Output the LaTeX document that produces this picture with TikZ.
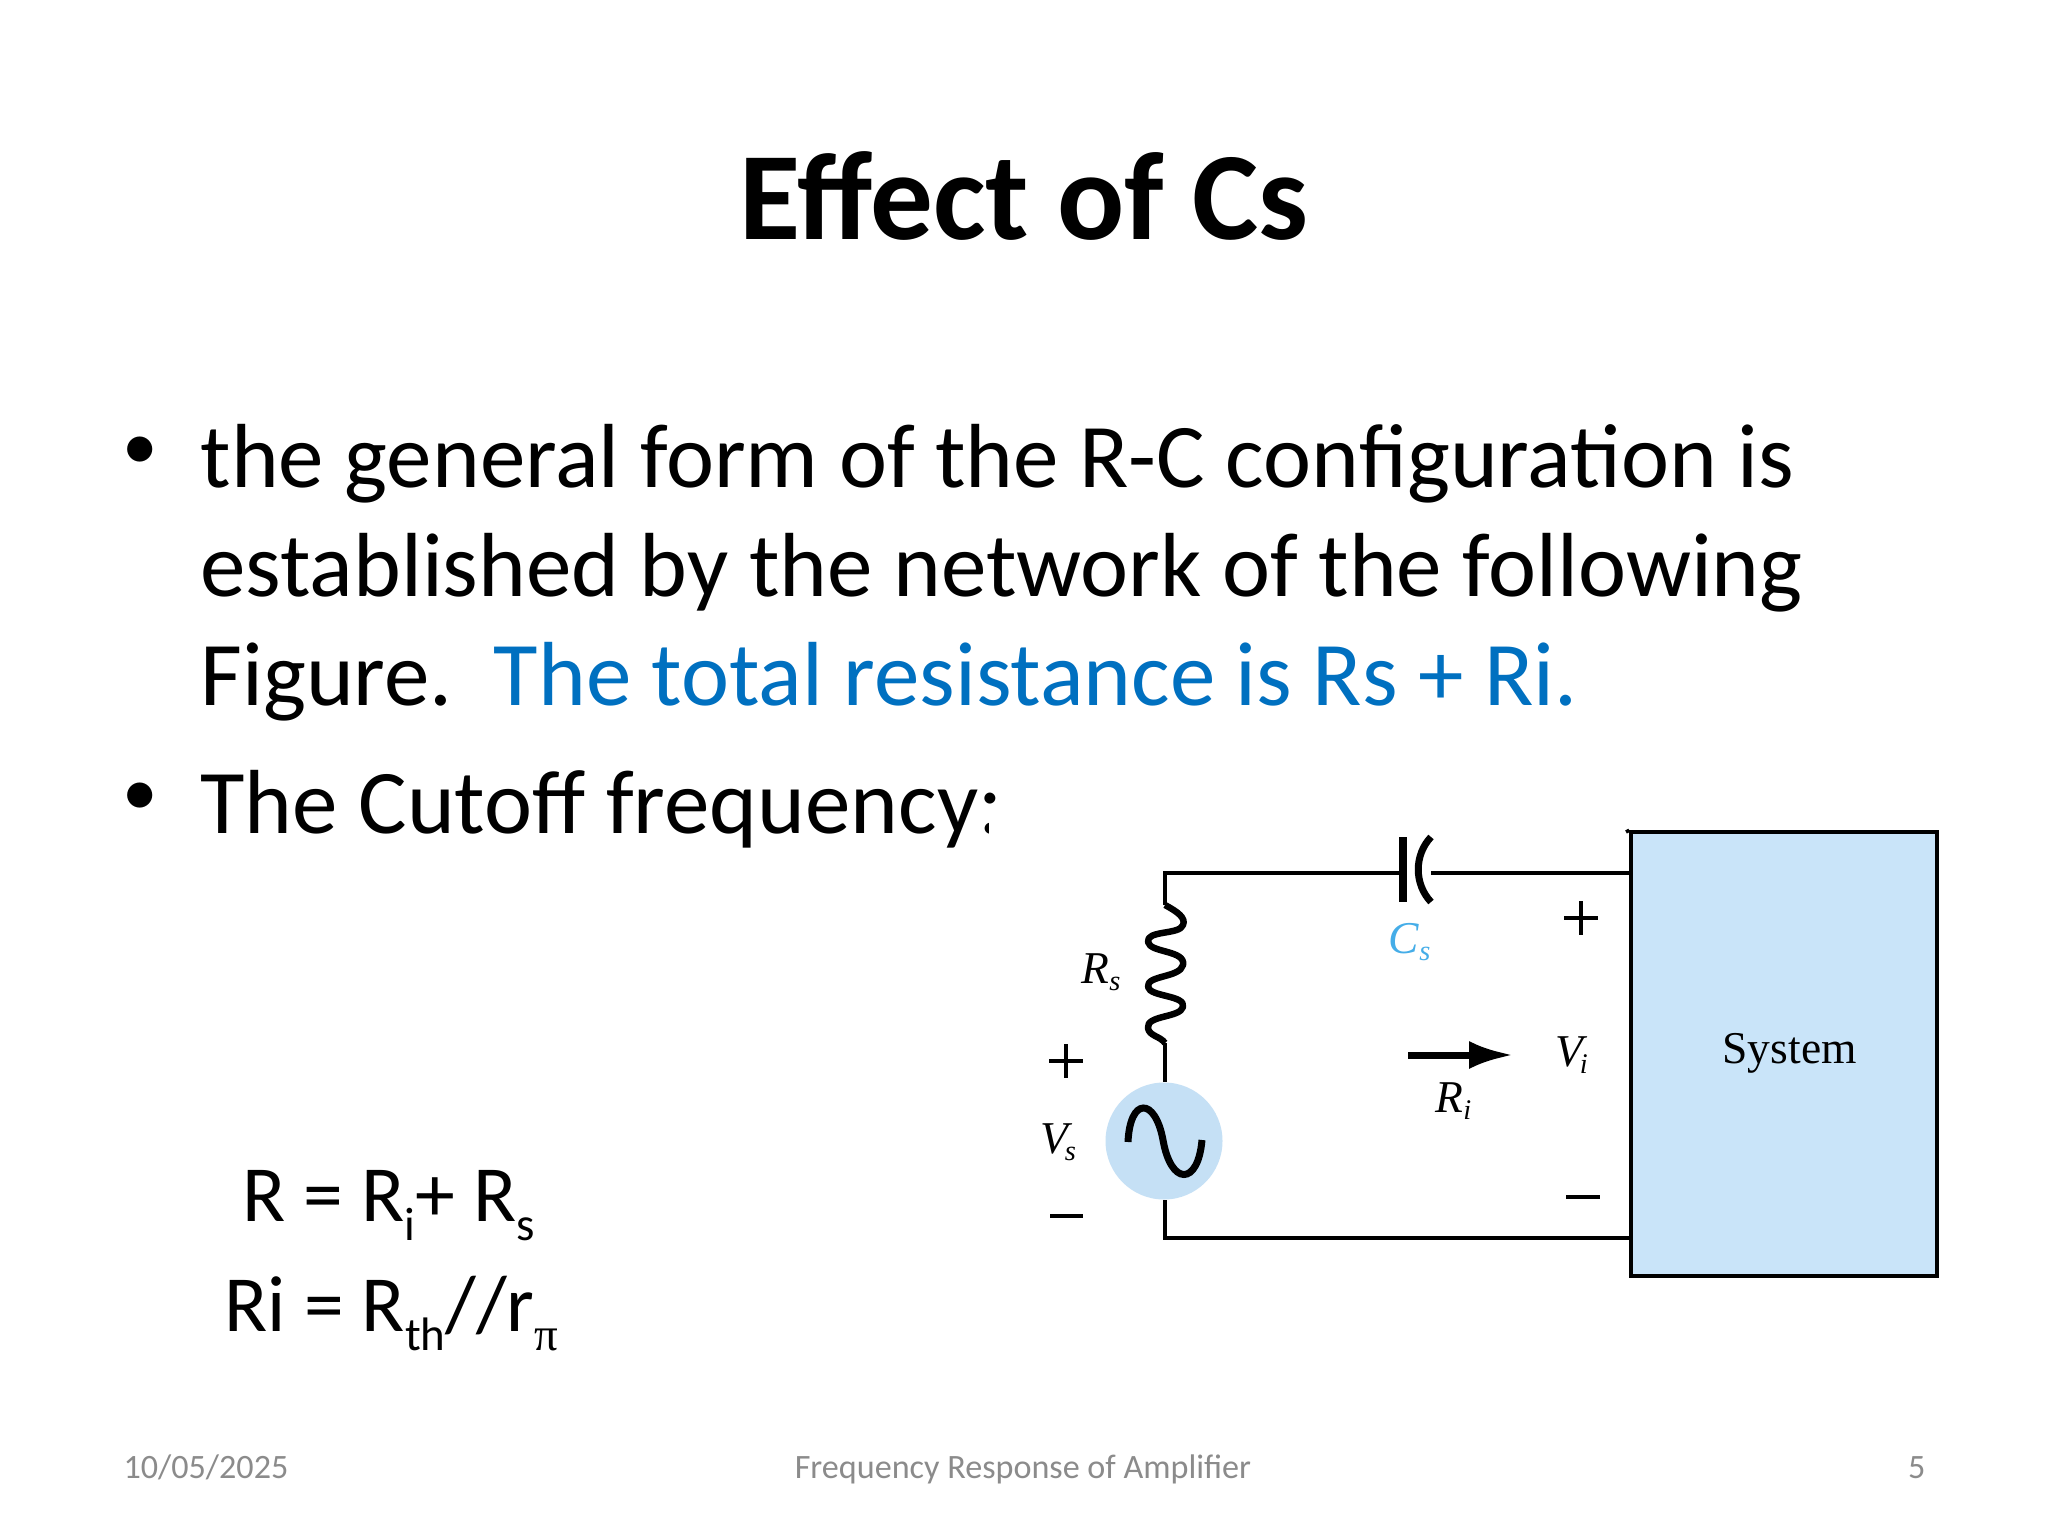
\documentclass[tikz,border=0pt]{standalone}
\usepackage{fontspec}
\setmainfont{Carlito}
\newfontfamily\figfont{Liberation Serif}
\usetikzlibrary{arrows.meta}

\definecolor{sysblue}{HTML}{C9E4F9}
\definecolor{srcblue}{HTML}{C5E0F5}
\definecolor{capblue}{HTML}{45ADE8}
\definecolor{slideblue}{HTML}{0070C0}
\definecolor{footgray}{HTML}{8B8B8B}

\def\px{0.3515625pt}
\newcommand{\lowsub}[1]{\raisebox{-7pt}{\fontsize{16.5}{16.5}\selectfont #1}}
\newcommand{\cirlabel}[2]{\textit{#1}\raisebox{-2.5pt}{\fontsize{10}{10}\selectfont\textit{#2}}}

\tikzset{
  bodytext/.style={anchor=base west,inner sep=0pt,font=\fontsize{32}{32}\selectfont},
  bullettext/.style={anchor=base west,inner sep=0pt,font=\fontsize{25}{25}\selectfont},
  eqtext/.style={anchor=base west,inner sep=0pt,font=\fontsize{28}{28}\selectfont},
  foottext/.style={inner sep=0pt,text=footgray,font=\fontsize{12}{12}\selectfont},
  figlabel/.style={anchor=base west,inner sep=0pt,font=\figfont\fontsize{16}{16}\selectfont},
  wire/.style={line width=3.5*\px},
  sign/.style={line width=3.4*\px}
}

\begin{document}
\begin{tikzpicture}[x=0.3515625pt,y=-0.3515625pt,line cap=butt,line join=miter]
  \useasboundingbox (0,0) rectangle (2048,1536);
  \fill[white] (0,0) rectangle (2048,1536);

  % Title
  \node[anchor=base,inner sep=0pt,font=\fontsize{44}{44}\selectfont\bfseries] (title) at (1024,240) {Effect of Cs};

  % Bullets
  \node[bullettext] (bulA) at (122,470) {•};
  \node[bodytext] (lineA) at (200,488) {the general form of the R-C configuration is};
  \node[bodytext] (lineB) at (200,597) {established by the network of the following};
  \node[bodytext] (lineC) at (200,705) {Figure.\ \ \textcolor{slideblue}{The total resistance is Rs + Ri.}};
  \node[bullettext] (bulB) at (122,815) {•};
  \node[bodytext] (lineD) at (200,833) {The Cutoff frequency:};

  % The figure hides the end of the line
  \fill[white] (989,812) rectangle (1040,860);

  % Equations
  \node[eqtext] (eqA) at (242,1221) {R = R\lowsub{i}+ R\lowsub{s}};
  \node[eqtext] (eqB) at (224,1331) {Ri = R\lowsub{th}//r\lowsub{\figfont π}};

  % Footer
  \node[foottext,anchor=base west] (date) at (123,1478) {10/05/2025};
  \node[foottext,anchor=base] (foot) at (1023,1478) {Frequency Response of Amplifier};
  \node[foottext,anchor=base east] (page) at (1926,1478) {5};

  % Points
  \coordinate (TL) at (1165,873);
  \coordinate (BL) at (1165,1238);
  \coordinate (Ctop) at (1403,837);
  \coordinate (Cbot) at (1403,902);
  \coordinate (Cin) at (1403,873);
  \coordinate (Cout) at (1431,873);
  \coordinate (Rtop) at (1165,905);
  \coordinate (Rbot) at (1165,1043);
  \coordinate (ArrA) at (1408,1055);
  \coordinate (ArrB) at (1513,1055);

  % System block
  \node[draw,fill=sysblue,line width=3.5*\px,inner sep=0pt,minimum width=306*\px,minimum height=444*\px] (sys) at (1784,1054) {};
  \draw[wire] (1626,832) -- (sys.north west);
  \node[figlabel] (syslab) at (1722,1063) {System};

  % Source
  \node[circle,fill=srcblue,inner sep=0pt,minimum size=117*\px] (src) at (1164,1141) {};
  \draw[line width=7*\px] (1128,1142) .. controls (1130,1097) and (1155,1097) .. (1163,1140)
    .. controls (1171,1186) and (1198,1186) .. (1202,1140);

  % Wires
  \draw[wire] (Cin) -- (TL) -- (Rtop);
  \draw[wire] (Cout) -- (sys.west |- Cout);
  \draw[wire] (Rbot) -- (Rbot |- src.north);
  \draw[wire] (BL |- src.south) -- (BL) -- (sys.west |- BL);

  % Resistor
  \draw[line width=6.5*\px,line join=round] (Rtop)
    .. controls (1178,912) and (1186,918) .. (1183,925)
    .. controls (1180,935) and (1146,930) .. (1148,942)
    .. controls (1150,953) and (1186,950) .. (1183,965)
    .. controls (1180,978) and (1146,975) .. (1148,987)
    .. controls (1150,997) and (1186,995) .. (1183,1007)
    .. controls (1180,1018) and (1146,1015) .. (1148,1028)
    .. controls (1149,1036) and (1160,1036) .. (Rbot);

  % Capacitor
  \draw[line width=7.5*\px] (Ctop) -- (Cbot);
  \draw[line width=7*\px] (1431,837) .. controls (1414,855) and (1414,884) .. (1431,902);

  % Arrow
  \draw[line width=7*\px,-{Latex[length=44*\px,width=28*\px]}] (ArrA) -- (ArrB);

  % Signs
  \draw[sign] (1049,1061) -- (1083,1061);
  \draw[sign] (1066,1044) -- (1066,1078);
  \draw[sign] (1050,1216) -- (1083,1216);
  \draw[sign] (1564,918) -- (1598,918);
  \draw[sign] (1581,901) -- (1581,935);
  \draw[sign] (1566,1197) -- (1600,1197);

  % Labels
  \node[figlabel] (Rs) at (1081,983) {\cirlabel{R}{s}};
  \node[figlabel,text=capblue] (Cs) at (1388,953) {\cirlabel{C}{s}};
  \node[figlabel] (Vs) at (1040,1153) {\cirlabel{V\kern-1.2pt}{s}};
  \node[figlabel] (Vi) at (1555,1066) {\cirlabel{V\kern-1.2pt}{i}};
  \node[figlabel] (Ri) at (1435,1112) {\cirlabel{R}{i}};
\end{tikzpicture}
\end{document}
